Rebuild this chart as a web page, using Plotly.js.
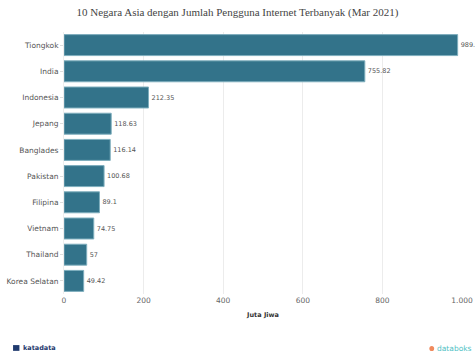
<!DOCTYPE html>
<html>
<head>
<meta charset="utf-8">
<script src="https://cdn.plot.ly/plotly-3.0.1.min.js"></script>
<style>html,body{margin:0;padding:0;background:#fff;}#chart{width:475px;height:354px;}</style>
</head>
<body>
<div id="chart"></div>
<script>
const countries = ["Tiongkok","India","Indonesia","Jepang","Banglades","Pakistan","Filipina","Vietnam","Thailand","Korea Selatan"];
const users = [989.08, 755.82, 212.35, 118.63, 116.14, 100.68, 89.1, 74.75, 57, 49.42];
const userLabels = ["989.08","755.82","212.35","118.63","116.14","100.68","89.1","74.75","57","49.42"];
const xTicks = [0, 200, 400, 600, 800, 1000];

const trace = {
  type: 'bar',
  orientation: 'h',
  y: countries,
  x: users,
  text: userLabels,
  textposition: 'outside',
  cliponaxis: false,
  textfont: {family: 'DejaVu Sans, sans-serif', size: 6.5, color: '#555'},
  marker: {color: '#33738a', line: {color: '#7eaebd', width: 1}},
  hoverinfo: 'none'
};

const layout = {
  width: 475, height: 354,
  margin: {l: 64, r: 13, t: 32, b: 60},
  paper_bgcolor: '#fff', plot_bgcolor: '#fff',
  bargap: 0.2,
  separators: ',.',
  showlegend: false,
  title: {text: '10 Negara Asia dengan Jumlah Pengguna Internet Terbanyak (Mar 2021)',
          font: {family: 'Liberation Serif, serif', size: 11, color: '#444'},
          x: 0.5, xanchor: 'center', y: 0.965, yanchor: 'middle'},
  xaxis: {range: [0, 1000], tickvals: xTicks, separatethousands: true,
          showgrid: true, gridcolor: '#ececec', gridwidth: 1, zeroline: false,
          showline: false, ticks: '',
          tickfont: {family: 'DejaVu Sans, sans-serif', size: 7.5, color: '#666'},
          title: {text: 'Juta Jiwa', font: {family: 'DejaVu Sans, sans-serif', size: 6.5, color: '#333', weight: 'bold'}, standoff: 8}},
  yaxis: {autorange: 'reversed', showgrid: false, zeroline: false, showline: true, linecolor: '#eee',
          ticks: 'outside', ticklen: 3, tickcolor: '#ddd',
          tickfont: {family: 'DejaVu Sans, sans-serif', size: 7.5, color: '#555'}},
  shapes: [
    {type: 'rect', xref: 'paper', yref: 'paper', x0: -0.128, x1: -0.112, y0: -0.217, y1: -0.195,
     fillcolor: '#1f3a6e', line: {width: 0}},
    {type: 'circle', xref: 'paper', yref: 'paper', x0: 0.918, x1: 0.93, y0: -0.218, y1: -0.198,
     fillcolor: '#f08a5d', line: {width: 0}}
  ],
  annotations: [
    {xref: 'paper', yref: 'paper', x: -0.108, y: -0.206, xanchor: 'left', yanchor: 'middle',
     text: '<b>katadata</b>', showarrow: false,
     font: {family: 'DejaVu Sans, sans-serif', size: 6.5, color: '#1f3a6e'}},
    {xref: 'paper', yref: 'paper', x: 0.932, y: -0.207, xanchor: 'left', yanchor: 'middle',
     text: 'databoks', showarrow: false,
     font: {family: 'DejaVu Sans, sans-serif', size: 7.5, color: '#4fbfc4'}}
  ]
};

Plotly.newPlot('chart', [trace], layout, {displayModeBar: false, staticPlot: true});
</script>
</body>
</html>
